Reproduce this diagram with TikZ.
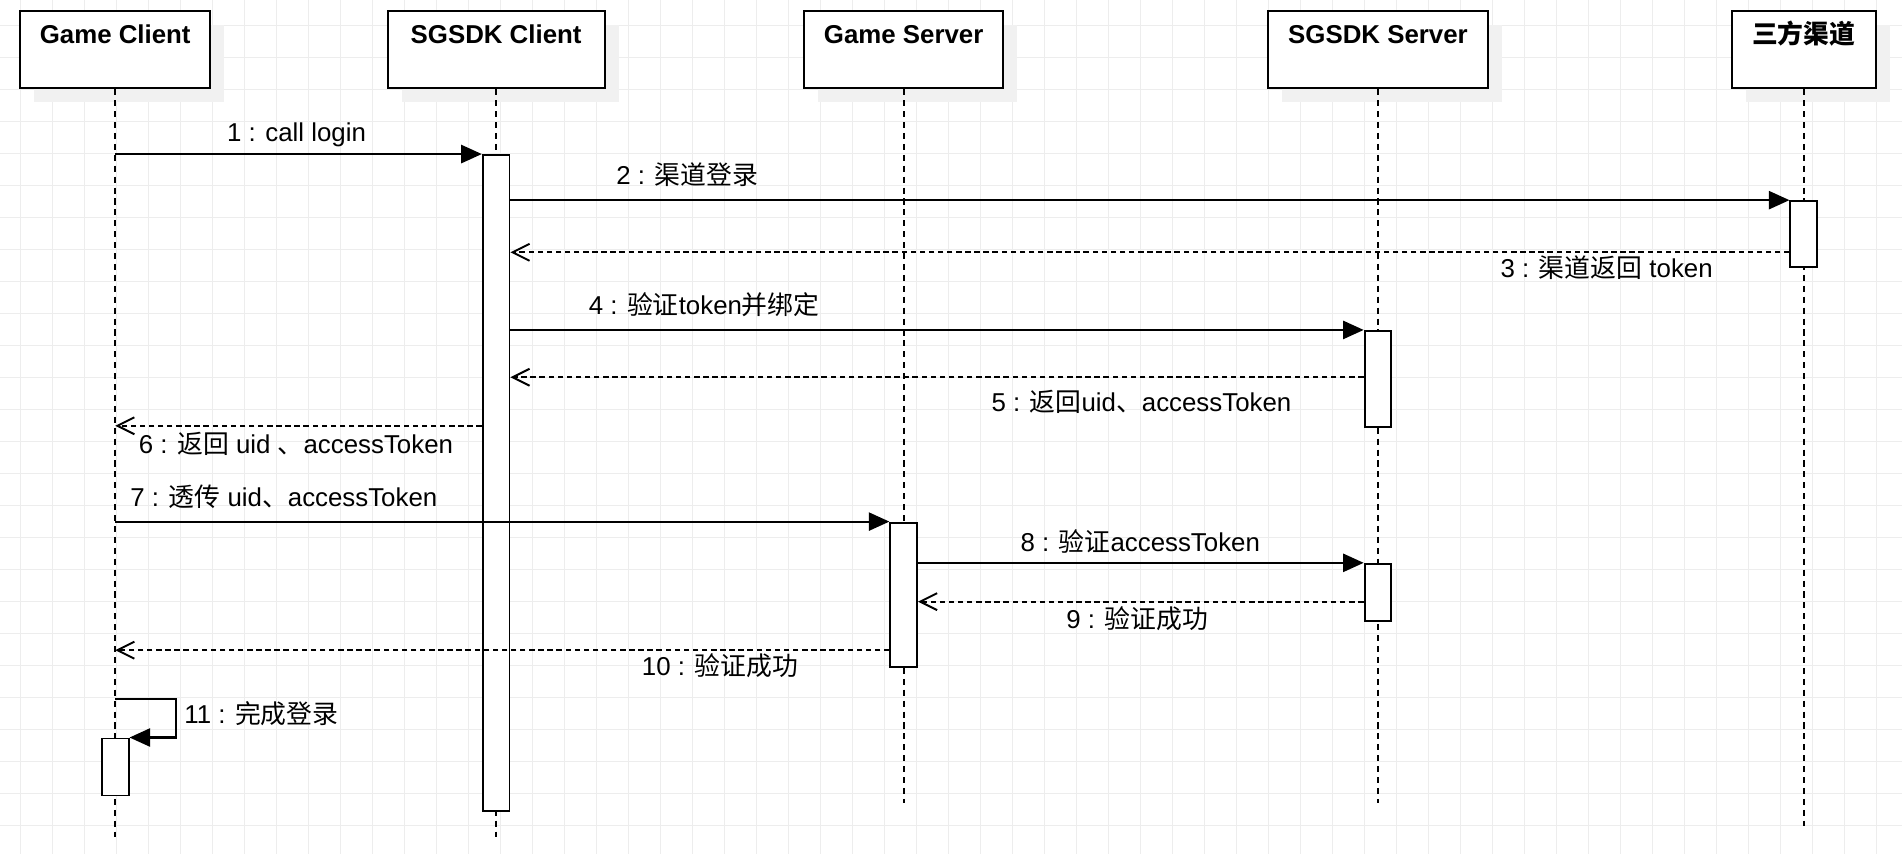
\documentclass[tikz,border=0pt]{standalone}
\usepackage{fontspec}
\setmainfont{Liberation Sans}
\newfontfamily\cjk{Noto Sans CJK SC}
\newcommand{\zh}[1]{{\cjk #1}}
\usetikzlibrary{arrows.meta, shadows}
\definecolor{gridGray}{HTML}{EDEDED}
\definecolor{shadowGray}{HTML}{F1F1F1}

\tikzset{
    head/.style={draw, fill=white, line width=1.6pt, minimum height=64pt, inner sep=0pt, anchor=north,
        general shadow={fill=shadowGray, shadow xshift=11.5pt, shadow yshift=-11.5pt}},
    title/.style={font=\fontsize{21.3}{25}\selectfont\bfseries, anchor=base, inner sep=0pt},
    bar/.style={draw, fill=white, line width=1.6pt, minimum width=22pt, inner sep=0pt, anchor=north},
    lifeline/.style={line width=1.6pt, dash pattern=on 5pt off 4pt},
    msg/.style={line width=1.7pt, -{Triangle[length=17pt,width=15pt]}},
    reply/.style={line width=1.6pt, dash pattern=on 4.5pt off 3pt, -{Straight Barb[length=14pt,width=14pt]}},
    lbl/.style={font=\fontsize{21.3}{25}\selectfont, anchor=base, inner sep=0pt},
}

\begin{document}
\begin{tikzpicture}[x=1pt, y=-1pt]
    \useasboundingbox (0,0) rectangle (1568,704);
    \fill[white] (0,0) rectangle (1568,704);
    % background grid
    \foreach \i in {0,...,59}
        \draw[gridGray, line width=0.8pt] ({17.07+\i*26.38},0) -- ++(0,704);
    \foreach \j in {0,...,25}
        \draw[gridGray, line width=0.8pt] (0,{21.4+\j*26.38}) -- ++(1568,0);

    % participants and lifelines
    \foreach \n/\x/\w/\e/\t in {gc/95/157/690/Game Client, sc/409/179/690/SGSDK Client,
            gs/745/164/662/Game Server, ss/1136/181/662/SGSDK Server, tp/1487/119/681/\zh{三方渠道}} {
        \node[head, minimum width=\w pt] (\n) at (\x,8) {};
        \node[title] (\n title) at ([yshift=-28pt]\n.north) {\t};
        \coordinate (\n end) at (\x,\e);
        \draw[lifeline] (\n) -- (\n end);
    }

    % activation bars
    \node[bar, minimum height=541pt] (scBar) at (409,127) {};
    \node[bar, minimum height=54pt] (tpBar) at (1487,165) {};
    \node[bar, minimum height=79pt] (ssBarA) at (1136,272) {};
    \node[bar, minimum height=119pt] (gsBar) at (745,430) {};
    \node[bar, minimum height=47pt] (ssBarB) at (1136,464) {};
    \node[bar, minimum height=47pt] (gcBar) at (95,608) {};

    % messages
    \draw[msg] (gc |- scBar.north) -- (scBar.north west);
    \node[lbl] (l1) at (244.5,116.5) {1 : call login};
    \draw[msg] (scBar.east |- tpBar.north) -- (tpBar.north west);
    \node[lbl] (l2) at (566.5,152.5) {2 : \zh{渠道登录}};
    \draw[reply] (tpBar.west |- 0,208) -- (scBar.east |- 0,208);
    \node[lbl] (l3) at (1324.5,228.5) {3 : \zh{渠道返回} token};
    \draw[msg] (scBar.east |- ssBarA.north) -- (ssBarA.north west);
    \node[lbl] (l4) at (580.5,259.5) {4 : \zh{验证}token\zh{并绑定}};
    \draw[reply] (ssBarA.west |- 0,311) -- (scBar.east |- 0,311);
    \node[lbl] (l5) at (941,339.5) {5 : \zh{返回}uid\zh{、}accessToken};
    \draw[reply] (scBar.west |- 0,351) -- (gc |- 0,351);
    \node[lbl] (l6) at (244,373.5) {6 : \zh{返回} uid \zh{、}accessToken};
    \draw[msg] (gc |- gsBar.north) -- (gsBar.north west);
    \node[lbl] (l7) at (234,417.5) {7 : \zh{透传} uid\zh{、}accessToken};
    \draw[msg] (gsBar.east |- ssBarB.north) -- (ssBarB.north west);
    \node[lbl] (l8) at (940,454.5) {8 : \zh{验证}accessToken};
    \draw[reply] (ssBarB.west |- 0,496) -- (gsBar.east |- 0,496);
    \node[lbl] (l9) at (937.5,518.5) {9 : \zh{验证成功}};
    \draw[reply] (gsBar.west |- 0,536) -- (gc |- 0,536);
    \node[lbl] (l10) at (593.5,556.5) {10 : \zh{验证成功}};
    \draw[msg] (gc |- 0,576) -- ++(50,0) |- (gcBar.north east);
    \node[lbl] (l11) at (215.5,596.5) {11 : \zh{完成登录}};
\end{tikzpicture}
\end{document}
